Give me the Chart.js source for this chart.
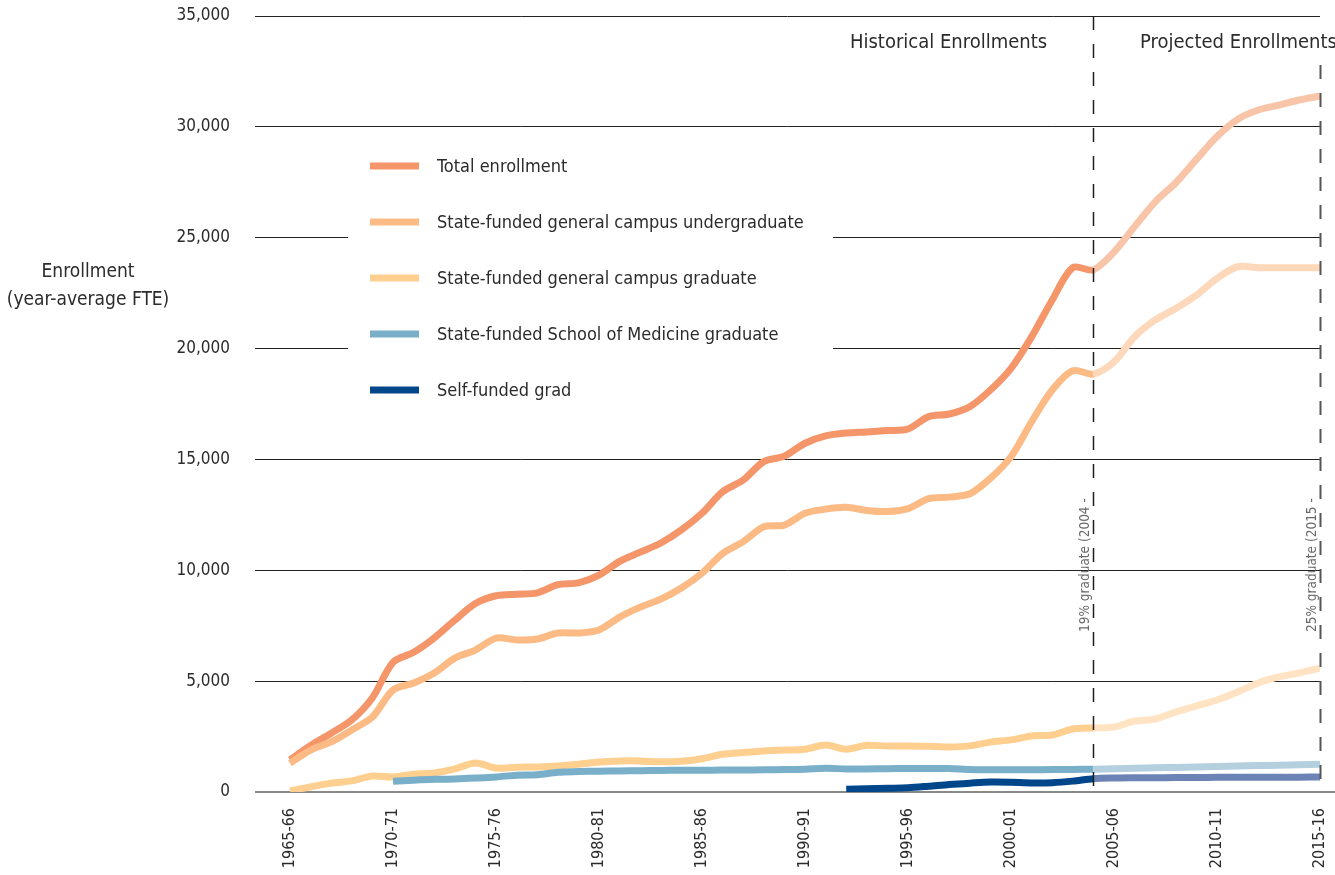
<!DOCTYPE html>
<html>
<head>
<meta charset="utf-8">
<title>Enrollment (year-average FTE)</title>
<script src="https://cdn.jsdelivr.net/npm/chart.js@4.4.1/dist/chart.umd.min.js"></script>
<style>
  html, body { margin: 0; padding: 0; background: #fff; }
  #wrap { width: 1335px; height: 875px; position: relative; }
</style>
</head>
<body>
<div id="wrap"><canvas id="enrollChart"></canvas></div>
<script>
// academic years, one point per year
const yearLabels = [
    '1965-66', '1966-67', '1967-68', '1968-69', '1969-70', '1970-71', '1971-72', '1972-73', '1973-74', '1974-75',
    '1975-76', '1976-77', '1977-78', '1978-79', '1979-80', '1980-81', '1981-82', '1982-83', '1983-84', '1984-85',
    '1985-86', '1986-87', '1987-88', '1988-89', '1989-90', '1990-91', '1991-92', '1992-93', '1993-94', '1994-95',
    '1995-96', '1996-97', '1997-98', '1998-99', '1999-00', '2000-01', '2001-02', '2002-03', '2003-04', '2004-05',
    '2005-06', '2006-07', '2007-08', '2008-09', '2009-10', '2010-11', '2011-12', '2012-13', '2013-14', '2014-15',
    '2015-16'
];
const tickYears = [1965, 1970, 1975, 1980, 1985, 1990, 1995, 2000, 2005, 2010, 2015];

const totalEnrollment = [
    1450, 2100, 2650, 3250, 4250, 5850, 6300, 6950, 7750, 8500,
    8850, 8920, 8980, 9350, 9430, 9780, 10400, 10820, 11230, 11820,
    12570, 13540, 14070, 14900, 15150, 15730, 16060, 16190, 16240, 16300,
    16370, 16930, 17050, 17380, 18130, 19110, 20530, 22190, 23650, 23550,
    24350, 25500, 26620, 27480, 28530, 29560, 30340, 30760, 30980, 31210,
    31390
];
const undergrad = [
    1300, 1890, 2260, 2800, 3380, 4600, 4920, 5370, 6040, 6400,
    6940, 6860, 6900, 7170, 7170, 7310, 7890, 8340, 8700, 9200,
    9870, 10760, 11290, 11960, 12040, 12570, 12760, 12840, 12700, 12650,
    12780, 13230, 13300, 13450, 14150, 15120, 16700, 18130, 19000, 18850,
    19400, 20530, 21290, 21810, 22410, 23170, 23690, 23650, 23650, 23650,
    23650
];
const gradGeneral = [
    50, 230, 400, 500, 720, 680, 800, 860, 1040, 1310,
    1080, 1120, 1130, 1170, 1250, 1350, 1400, 1400, 1360, 1390,
    1500, 1700, 1780, 1850, 1890, 1930, 2120, 1930, 2110, 2070,
    2080, 2060, 2030, 2080, 2250, 2350, 2530, 2570, 2840, 2890,
    2930, 3200, 3290, 3610, 3880, 4150, 4510, 4920, 5190, 5370,
    5590
];
const gradMedicine = [
    null, null, null, null, null, 480, 530, 570, 590, 630,
    680, 760, 780, 890, 920, 940, 950, 960, 970, 980,
    980, 990, 990, 1000, 1010, 1030, 1070, 1040, 1040, 1050,
    1060, 1060, 1060, 1010, 1000, 1000, 1000, 1010, 1020, 1030,
    1050, 1070, 1090, 1110, 1130, 1150, 1170, 1190, 1210, 1230,
    1250
];
const selfFunded = [
    null, null, null, null, null, null, null, null, null, null,
    null, null, null, null, null, null, null, null, null, null,
    null, null, null, null, null, null, null, 120, 150, 170,
    190, 260, 340, 400, 450, 440, 410, 420, 490, 600,
    630, 640, 645, 650, 655, 660, 660, 665, 670, 670,
    675
];

const FIRST_YEAR = 1965;
const PROJECTION_START = 2004;
const shareNotes = [
    { year: 2004, text: '19% graduate (2004 -' },
    { year: 2015, text: '25% graduate (2015 -' }
];

const FONT = '"Liberation Sans Narrow", "DejaVu Sans Condensed", "Arial Narrow", sans-serif';
const INK = '#2b2b2b';

const series = [
    { label: 'Total enrollment', values: totalEnrollment, color: '#F4956A', light: '#F9C5A9' },
    { label: 'State-funded general campus undergraduate', values: undergrad, color: '#FCBB85', light: '#FED8BB' },
    { label: 'State-funded general campus graduate', values: gradGeneral, color: '#FECF8F', light: '#FFE3C3' },
    { label: 'State-funded School of Medicine graduate', values: gradMedicine, color: '#7AAFC9', light: '#B4D0DF' },
    { label: 'Self-funded grad', values: selfFunded, color: '#00468A', light: '#6B84B5' }
];

const datasets = series.map((s, i) => ({
    label: s.label,
    data: s.values.map((v, k) => ({ x: FIRST_YEAR + k, y: v })),
    borderColor: s.color,
    borderWidth: 7,
    borderCapStyle: 'butt',
    pointRadius: 0,
    tension: 0.3,
    spanGaps: false,
    order: series.length - i,
    segment: {
        borderColor: ctx => ctx.p0.parsed.x >= PROJECTION_START ? s.light : s.color
    }
}));

// titles, legend, period dividers and notes drawn on the canvas
const decorations = {
    id: 'decorations',
    beforeDatasetsDraw(chart) {
        const { ctx, chartArea, scales: { y } } = chart;
        const y0 = Math.round(y.getPixelForValue(0));
        ctx.save();
        ctx.strokeStyle = '#8a8a8a';
        ctx.lineWidth = 2;
        ctx.beginPath();
        ctx.moveTo(chartArea.left, y0);
        ctx.lineTo(chart.width, y0);
        ctx.stroke();

        // legend panel over the grid
        ctx.fillStyle = '#fff';
        ctx.fillRect(348, 138, 485, 280);
        ctx.font = '18px ' + FONT;
        ctx.textBaseline = 'middle';
        ctx.textAlign = 'left';
        series.forEach((s, i) => {
            const ly = 166 + i * 56;
            ctx.strokeStyle = s.color;
            ctx.lineWidth = 7;
            ctx.beginPath();
            ctx.moveTo(370, ly);
            ctx.lineTo(419, ly);
            ctx.stroke();
            ctx.fillStyle = INK;
            ctx.fillText(s.label, 437, ly + 1);
        });

        // y axis title
        ctx.textAlign = 'center';
        ctx.font = '19px ' + FONT;
        ctx.fillText('Enrollment', 88, 272);
        ctx.fillText('(year-average FTE)', 88, 300);
        ctx.restore();
    },
    afterDatasetsDraw(chart) {
        const { ctx, chartArea, scales: { x, y } } = chart;
        const y0 = y.getPixelForValue(0);
        const xSplit = Math.round(x.getPixelForValue(PROJECTION_START)) + 0.5;
        const xEnd = Math.round(x.getPixelForValue(2015)) + 0.5;
        ctx.save();
        ctx.setLineDash([14, 14]);
        ctx.strokeStyle = '#1e1e1e';
        ctx.lineWidth = 1.5;
        ctx.beginPath();
        ctx.moveTo(xSplit, chartArea.top);
        ctx.lineTo(xSplit, y0);
        ctx.stroke();
        ctx.strokeStyle = '#555';
        ctx.lineWidth = 2;
        ctx.beginPath();
        ctx.moveTo(xEnd, 65);
        ctx.lineTo(xEnd, y0);
        ctx.stroke();
        ctx.setLineDash([]);

        ctx.fillStyle = INK;
        ctx.font = '20px ' + FONT;
        ctx.textAlign = 'center';
        ctx.textBaseline = 'middle';
        ctx.fillText('Historical Enrollments', xSplit - 145, 43);
        ctx.fillText('Projected Enrollments', xSplit + 145, 43);

        ctx.fillStyle = '#6a6a6a';
        ctx.font = '13.5px ' + FONT;
        ctx.textAlign = 'left';
        shareNotes.forEach(n => {
            const nx = x.getPixelForValue(n.year) - 8;
            ctx.save();
            ctx.translate(nx, 632);
            ctx.rotate(-Math.PI / 2);
            ctx.fillText(n.text, 0, 0);
            ctx.restore();
        });
        ctx.restore();
    }
};

new Chart(document.getElementById('enrollChart').getContext('2d'), {
    type: 'line',
    data: { datasets: datasets },
    options: {
        animation: false,
        responsive: true,
        maintainAspectRatio: false,
        layout: { padding: { top: 16, right: 15, bottom: 0, left: 0 } },
        scales: {
            x: {
                type: 'linear',
                min: FIRST_YEAR - 1.7,
                max: 2015,
                grid: { display: false },
                border: { display: false },
                afterBuildTicks: s => { s.ticks = tickYears.map(v => ({ value: v })); },
                afterFit: s => {
                    s.height = 83;
                    s.paddingLeft = 0;
                    s.paddingRight = 0;
                },
                ticks: {
                    autoSkip: false,
                    minRotation: 90,
                    maxRotation: 90,
                    padding: 8,
                    color: INK,
                    font: { family: FONT, size: 16 },
                    callback: v => yearLabels[v - FIRST_YEAR]
                }
            },
            y: {
                min: 0,
                max: 35000,
                afterFit: s => {
                    s.width = 255;
                    s.paddingTop = 0;
                    s.paddingBottom = 0;
                },
                grid: {
                    drawTicks: false,
                    lineWidth: 1,
                    color: ctx => ctx.tick && ctx.tick.value === 0 ? 'rgba(0,0,0,0)' : '#222'
                },
                border: { display: false },
                ticks: {
                    stepSize: 5000,
                    padding: 25,
                    color: INK,
                    font: { family: FONT, size: 17 },
                    callback: v => v.toLocaleString('en-US')
                }
            }
        },
        plugins: {
            legend: { display: false },
            tooltip: { enabled: false }
        }
    },
    plugins: [decorations]
});
</script>
</body>
</html>
